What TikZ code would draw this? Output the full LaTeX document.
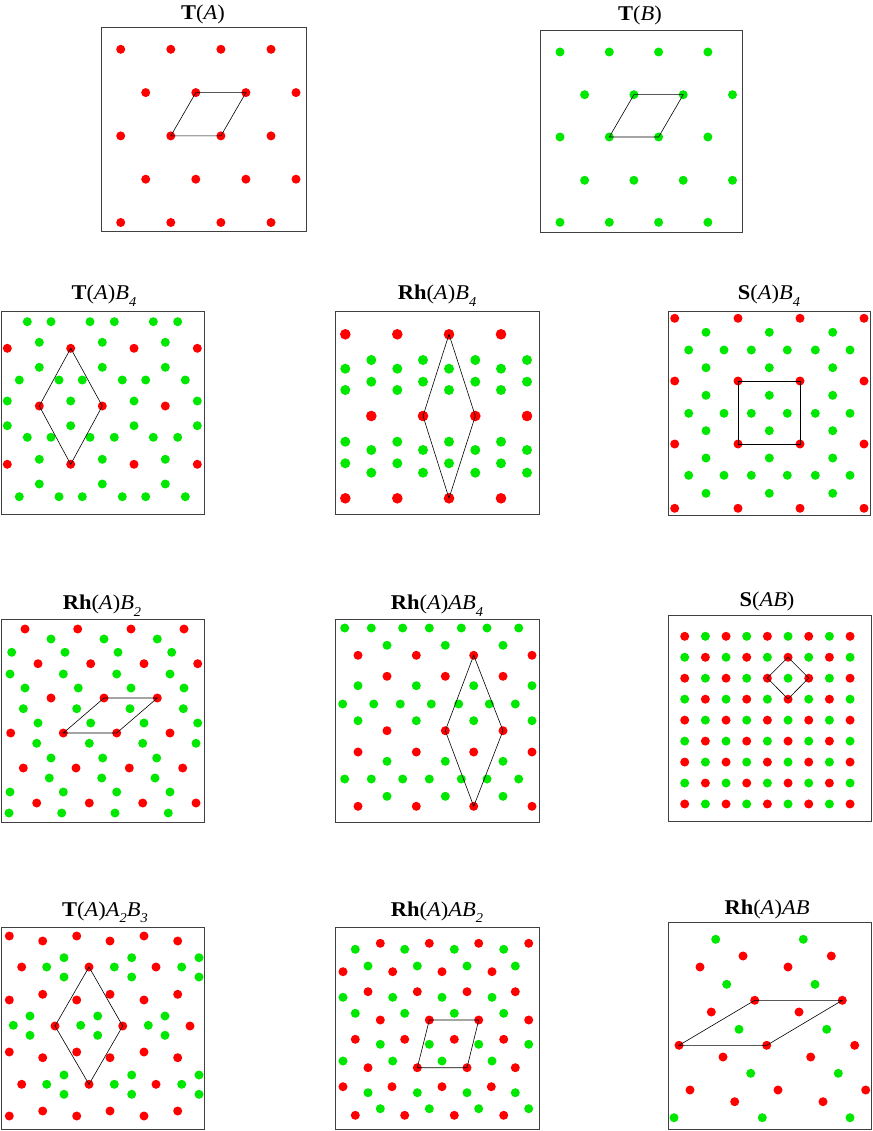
\documentclass[tikz,border=0pt]{standalone}
\usepackage{fontspec}
\setmainfont{Liberation Serif}
\definecolor{rd}{RGB}{255,0,0}
\definecolor{gn}{RGB}{0,232,0}
\newcommand\lsub[1]{\raisebox{-0.32em}{\fontsize{13.5}{14}\selectfont\itshape #1}}
\newcommand\ttxt[1]{\scalebox{1.07}[1]{#1}}
\newcommand\redrow[3][4.5pt]{\foreach \xx in {#3} {\fill[rd] (\xx,#2) circle[radius=#1];}}
\newcommand\grnrow[3][4.5pt]{\foreach \xx in {#3} {\fill[gn] (\xx,#2) circle[radius=#1];}}
\tikzset{
  panel/.style={draw=black!75, line width=0.9pt},
  cell/.style={draw=black, line width=0.6pt, line join=miter},
  ttl/.style={anchor=base, inner sep=0pt, font=\fontsize{21}{23}\selectfont},
}
\begin{document}
\begin{tikzpicture}[x=1pt,y=-1pt]
\useasboundingbox (0,0) rectangle (872,1131);
\fill[white] (0,0) rectangle (872,1131);

% ---------- Panel 1: T(A)
\draw[panel] (101,27) rectangle (306.5,231.5);
\redrow{49.3}{120.7,170.8,220.9,271}
\redrow{92.6}{145.7,195.8,245.9,296}
\redrow{135.9}{120.7,170.8,220.9,271}
\redrow{179.2}{145.7,195.8,245.9,296}
\redrow{222.5}{120.7,170.8,220.9,271}
\draw[cell] (170.8,135.9)--(220.9,135.9)--(245.9,92.6)--(195.8,92.6)--cycle;
\node[ttl] (t1) at (203,19.5) {\ttxt{\textbf{T}(\textit{A})}};

% ---------- Panel 2: T(B)
\draw[panel] (540,30) rectangle (742.7,232);
\grnrow{52}{560,609.3,658.6,707.9}
\grnrow{94.7}{584.6,633.9,683.2,732.5}
\grnrow{137}{560,609.3,658.6,707.9}
\grnrow{180.3}{584.6,633.9,683.2,732.5}
\grnrow{222.3}{560,609.3,658.6,707.9}
\draw[cell] (609.3,137)--(658.6,137)--(683.2,94.7)--(633.9,94.7)--cycle;
\node[ttl] (t2) at (640,20.7) {\ttxt{\textbf{T}(\textit{B})}};

% ---------- Panel 3: T(A)B4
\draw[panel] (1.7,311.7) rectangle (204,514);
\redrow{348.3}{7.3,70.7,134,197.3}
\redrow{406}{39.3,102.3,165.3}
\redrow{464.3}{7.3,70.7,134,197.3}
\grnrow{321.7}{27.3,51,90,114.3,153.3,177.7}
\grnrow{342.3}{39.3,102.3,165.3}
\grnrow{367.3}{39.3,102.3,165.3}
\grnrow{380}{19.3,59,82.3,122.3,145.7,185.3}
\grnrow{401}{7.3,70.7,134,197.3}
\grnrow{425.7}{7.3,70.7,134,197.3}
\grnrow{437.3}{27.3,51,90,114.3,153.3,177.7}
\grnrow{459.3}{39.3,102.3,165.3}
\grnrow{484}{39.3,102.3,165.3}
\grnrow{496.7}{19.3,59,82.3,122.3,145.7,185.3}
\draw[cell] (70.7,348.3)--(39.3,406)--(70.7,464.3)--(102.3,406)--cycle;
\node[ttl] (t3) at (104,299.5) {\ttxt{\textbf{T}(\textit{A})\textit{B}\lsub{4}}};

% ---------- Panel 4: Rh(A)B4
\draw[panel] (335.3,311.7) rectangle (539.3,514);
\redrow[5.3pt]{334.3}{345.3,397.3,449,501}
\redrow[5.3pt]{416}{371.3,423,475.3,527}
\redrow[5.3pt]{498.3}{345.3,397.3,449,501}
\foreach \yy in {368.7,390,441.7,463.3} {\grnrow[5pt]{\yy}{345.3,397.3,449,501}}
\foreach \yy in {360,381.7,450,472.7} {\grnrow[5pt]{\yy}{371.3,423,475.3,527}}
\draw[cell] (449,334.3)--(423,416)--(449,498.3)--(475.3,416)--cycle;
\node[ttl] (t4) at (437,299.5) {\ttxt{\textbf{Rh}(\textit{A})\textit{B}\lsub{4}}};

% ---------- Panel 5: S(A)B4
\draw[panel] (668,311.7) rectangle (870.7,515);
\foreach \yy in {318.3,381,444,508.3} {\redrow{\yy}{674.7,738,800,864}}
\foreach \yy in {332.3,367.7,395.3,430.7,458,493.3} {\grnrow{\yy}{706,769.3,832.7}}
\foreach \yy in {350,413.3,475.3} {\grnrow{\yy}{688.7,724,751.3,787.3,815.3,850}}
\draw[cell] (738,381) rectangle (800,444);
\node[ttl] (t5) at (769,299.5) {\ttxt{\textbf{S}(\textit{A})\textit{B}\lsub{4}}};

% ---------- Panel 6: Rh(A)B2
\draw[panel] (1.7,619.7) rectangle (204,822);
\redrow{629}{25,77.7,131,184}
\redrow{663.7}{38,90.7,144,197.7}
\redrow{698}{51,104,157.3}
\redrow{733}{10.7,63.3,116.7,170}
\redrow{768}{23.3,76,129.3,182.7}
\redrow{803}{36.7,89.3,142.7,196}
\grnrow{639}{51,104,157.3}
\grnrow{652.3}{11.7,65,118,171.7}
\grnrow{674}{10,63.3,116.7,170}
\grnrow{688}{25,78.3,131,184}
\grnrow{708.7}{23.3,76.7,130,183.3}
\grnrow{723}{38,90.7,144,197.7}
\grnrow{743.3}{36.7,89.3,142.7,196}
\grnrow{758}{51,102.7,156.7}
\grnrow{778}{49.3,101.7,155}
\grnrow{792}{10,63.3,116.7,170}
\grnrow{813}{9,61.7,115,168.3}
\draw[cell] (63.3,733)--(116.7,733)--(157.3,698)--(104,698)--cycle;
\node[ttl] (t6) at (102,609.5) {\ttxt{\textbf{Rh}(\textit{A})\textit{B}\lsub{2}}};

% ---------- Panel 7: Rh(A)AB4
\draw[panel] (335.3,619.7) rectangle (539.3,822);
\redrow{655.3}{358,416.3,473.7,532}
\redrow{676.3}{387,445.3,503}
\redrow{730.7}{387,445.3,503}
\redrow{752}{358,416.3,473.7,532}
\redrow{806.3}{358,416.3,473.7,532}
\grnrow{628}{344.7,371.3,402.7,429.3,461.3,487,518.7}
\grnrow{645.3}{387,445.3,503}
\grnrow{685.7}{358,416.3,473.7,532}
\grnrow{704}{342.7,373.7,400.3,431.3,458.7,489.3,515.3}
\grnrow{720.7}{358,416.3,473.7,532}
\grnrow{761.3}{387,445.3,503}
\grnrow{779}{344.7,371.3,402.7,429.3,461.3,487,518.7}
\grnrow{796.3}{387,445.3,503}
\draw[cell] (473.7,655.3)--(445.3,730.7)--(473.7,806.3)--(503,730.7)--cycle;
\node[ttl] (t7) at (437,609.5) {\ttxt{\textbf{Rh}(\textit{A})\textit{AB}\lsub{4}}};

% ---------- Panel 8: S(AB)
\draw[panel] (668,615.3) rectangle (871.2,821.5);
\foreach \i in {0,...,8} {
  \foreach \j in {0,...,8} {
    \pgfmathtruncatemacro\pp{mod(\i+\j,2)}
    \ifnum\pp=0
      \fill[rd] (684.7+20.67*\i, 636.3+20.96*\j) circle[radius=4.5pt];
    \else
      \fill[gn] (684.7+20.67*\i, 636.3+20.96*\j) circle[radius=4.5pt];
    \fi
  }
}
\draw[cell] (788,657.3)--(767.3,678)--(788,699)--(808.7,678)--cycle;
\node[ttl] (t8) at (767,606.3) {\ttxt{\textbf{S}(\textit{AB})}};

% ---------- Panel 9: T(A)A2B3
\draw[panel] (1.7,927.7) rectangle (204,1129.3);
\redrow{936}{9.3,76.7,144}
\redrow{941}{42.7,110,177.7}
\redrow{967}{21.7,89,156}
\redrow{994.3}{42.7,110,177.7}
\redrow{1000}{9.3,76.7,144}
\redrow{1026}{55,122.7,190}
\redrow{1052}{9.3,76.7,144}
\redrow{1057.7}{42.7,110,177.7}
\redrow{1084.3}{21.7,89,156}
\redrow{1111}{42.7,110,177.7}
\redrow{1116}{9.3,76.7,144}
\grnrow{957.7}{64,131.7,199}
\grnrow{967}{46.7,114.3,181.7}
\grnrow{977}{64,131.7,199}
\grnrow{1016}{30,97.7,165}
\grnrow{1025.3}{13.3,80.7,148.3}
\grnrow{1035.3}{30,97.7,165}
\grnrow{1075}{64,131.7,199}
\grnrow{1084.3}{46.7,114.3,181.7}
\grnrow{1094.3}{64,131.7,199}
\draw[cell] (89,967)--(55,1026)--(89,1084.3)--(122.7,1026)--cycle;
\node[ttl] (t9) at (105,916) {\ttxt{\textbf{T}(\textit{A})\textit{A}\lsub{2}\textit{B}\lsub{3}}};

% ---------- Panel 10: Rh(A)AB2
\draw[panel] (335.3,927.7) rectangle (539.3,1129.3);
\redrow{943.3}{380.3,429.3,478.7,528.7}
\redrow{971.7}{343,392.7,442,492}
\redrow{991.7}{368,417.3,467,515.3}
\redrow{1020}{380.3,429.3,478.7,528.7}
\redrow{1039.3}{355.3,404.7,454.3,503.7}
\redrow{1067.7}{368,417.3,467,515.3}
\redrow{1086.7}{343,392,442,491.3}
\redrow{1115.3}{355.3,404.7,454.3,503.7}
\grnrow{949.3}{355.3,404.7,454.3,503.7}
\grnrow{966}{368,417.3,467,515.3}
\grnrow{997.3}{343,392.7,442,492}
\grnrow{1013.3}{355.3,404.7,454.3,503.7}
\grnrow{1044.3}{380.3,429.3,478.7,528.7}
\grnrow{1061}{343,392.7,442,492}
\grnrow{1092.7}{368,417.3,467,515.3}
\grnrow{1108.7}{380.3,429.3,478.7,528.7}
\draw[cell] (417.3,1067.7)--(467,1067.7)--(478.7,1020)--(429.3,1020)--cycle;
\node[ttl] (t10) at (437,916) {\ttxt{\textbf{Rh}(\textit{A})\textit{AB}\lsub{2}}};

% ---------- Panel 11: Rh(A)AB
\draw[panel] (668,922.7) rectangle (871.2,1129.3);
\redrow{956}{743,831.3}
\redrow{967}{700,788}
\redrow{1000.3}{754.7,842.3}
\redrow{1012}{711.3,799}
\redrow{1045.3}{679,766.7,854.7}
\redrow{1057}{723,810.7}
\redrow{1090}{690,778,865.7}
\redrow{1101.7}{734.7,823}
\grnrow{939.3}{715.7,803.3}
\grnrow{984.3}{726.7,815}
\grnrow{1029.3}{739,826.7}
\grnrow{1073.3}{750.7,838.3}
\grnrow{1117.7}{674,762.3,850}
\draw[cell] (679,1045.3)--(766.7,1045.3)--(842.3,1000.3)--(754.7,1000.3)--cycle;
\node[ttl] (t11) at (767,914) {\ttxt{\textbf{Rh}(\textit{A})\textit{AB}}};
\end{tikzpicture}
\end{document}
